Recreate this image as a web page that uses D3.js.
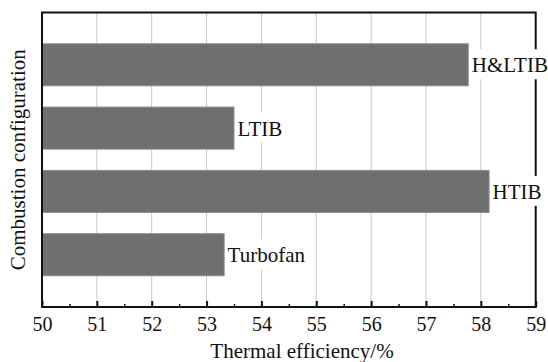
<!DOCTYPE html>
<html><head><meta charset="utf-8">
<script src="https://cdn.jsdelivr.net/npm/d3@7"></script>
<style>body{margin:0;background:#fff}svg{display:block}</style>
</head><body>
<script>
const categories = ["H&LTIB", "LTIB", "HTIB", "Turbofan"];
const efficiency = [57.77, 53.5, 58.15, 53.32];
const xTicks = [50, 51, 52, 53, 54, 55, 56, 57, 58, 59];
const xMinorTicks = [50.5, 51.5, 52.5, 53.5, 54.5, 55.5, 56.5, 57.5, 58.5];
const xTitle = "Thermal efficiency/%";
const yTitle = "Combustion configuration";

const W = 548, H = 362;
const m = {l: 42, t: 12.5, r: 12.3, b: 55};
const font = "'Liberation Serif','Times New Roman',serif";

const svg = d3.select("body").append("svg").attr("width", W).attr("height", H);
const x = d3.scaleLinear().domain([50, 59]).range([m.l, W - m.r]);
const y = d3.scaleBand().domain(categories).range([m.t, H - m.b]).paddingInner(0.336).paddingOuter(0.494);

// gridlines
svg.append("g").selectAll("line").data(xTicks.slice(1, -1)).join("line")
  .attr("x1", d => x(d)).attr("x2", d => x(d))
  .attr("y1", m.t).attr("y2", H - m.b)
  .attr("stroke", "#c8c8c8").attr("stroke-width", 1);

// bars
const data = categories.map((c, i) => ({c, v: efficiency[i]}));
svg.append("g").selectAll("rect").data(data).join("rect")
  .attr("x", x(50)).attr("y", d => y(d.c))
  .attr("width", d => x(d.v) - x(50)).attr("height", y.bandwidth())
  .attr("fill", "#6f6f6f").attr("stroke", "#8c8c8c").attr("stroke-width", 1);

// bottom axis (ticks inward)
const gx = svg.append("g").attr("transform", `translate(0,${H - m.b})`)
  .call(d3.axisBottom(x).tickValues(xTicks).tickSize(-6).tickFormat(d3.format("d")));
gx.select(".domain").remove();
gx.selectAll(".tick line").attr("stroke", "#111").attr("stroke-width", 2);
gx.selectAll(".tick text").attr("y", 24).attr("dy", 0)
  .attr("font-family", font).attr("font-size", 20).attr("fill", "#111");
const gxm = svg.append("g").attr("transform", `translate(0,${H - m.b})`)
  .call(d3.axisBottom(x).tickValues(xMinorTicks).tickSize(-3).tickFormat(""));
gxm.select(".domain").remove();
gxm.selectAll(".tick line").attr("stroke", "#111").attr("stroke-width", 1.5);

// frame
svg.append("rect").attr("x", x(50)).attr("y", m.t)
  .attr("width", x(59) - x(50)).attr("height", H - m.b - m.t)
  .attr("fill", "none").attr("stroke", "#111").attr("stroke-width", 2);

// bar labels with white background
const lg = svg.append("g");
data.forEach(d => {
  const g = lg.append("g");
  const r = g.append("rect").attr("fill", "#fff");
  const t = g.append("text")
    .attr("x", x(d.v) + 3.5).attr("y", y(d.c) + y.bandwidth() / 2 + 7.5)
    .attr("font-family", font).attr("font-size", 21).attr("fill", "#111")
    .text(d.c);
  const bb = t.node().getBBox();
  const by = y(d.c) + y.bandwidth() / 2 + 7.5;
  r.attr("x", bb.x - 1).attr("width", bb.width + 2)
   .attr("y", by - 23).attr("height", 30);
});

// titles
svg.append("text").attr("x", 302).attr("y", 358).attr("text-anchor", "middle")
  .attr("font-family", font).attr("font-size", 21).attr("fill", "#111").text(xTitle);
svg.append("text").attr("transform", `translate(25,${(m.t + H - m.b) / 2}) rotate(-90)`)
  .attr("text-anchor", "middle")
  .attr("font-family", font).attr("font-size", 21).attr("fill", "#111").text(yTitle);
</script>
</body></html>
